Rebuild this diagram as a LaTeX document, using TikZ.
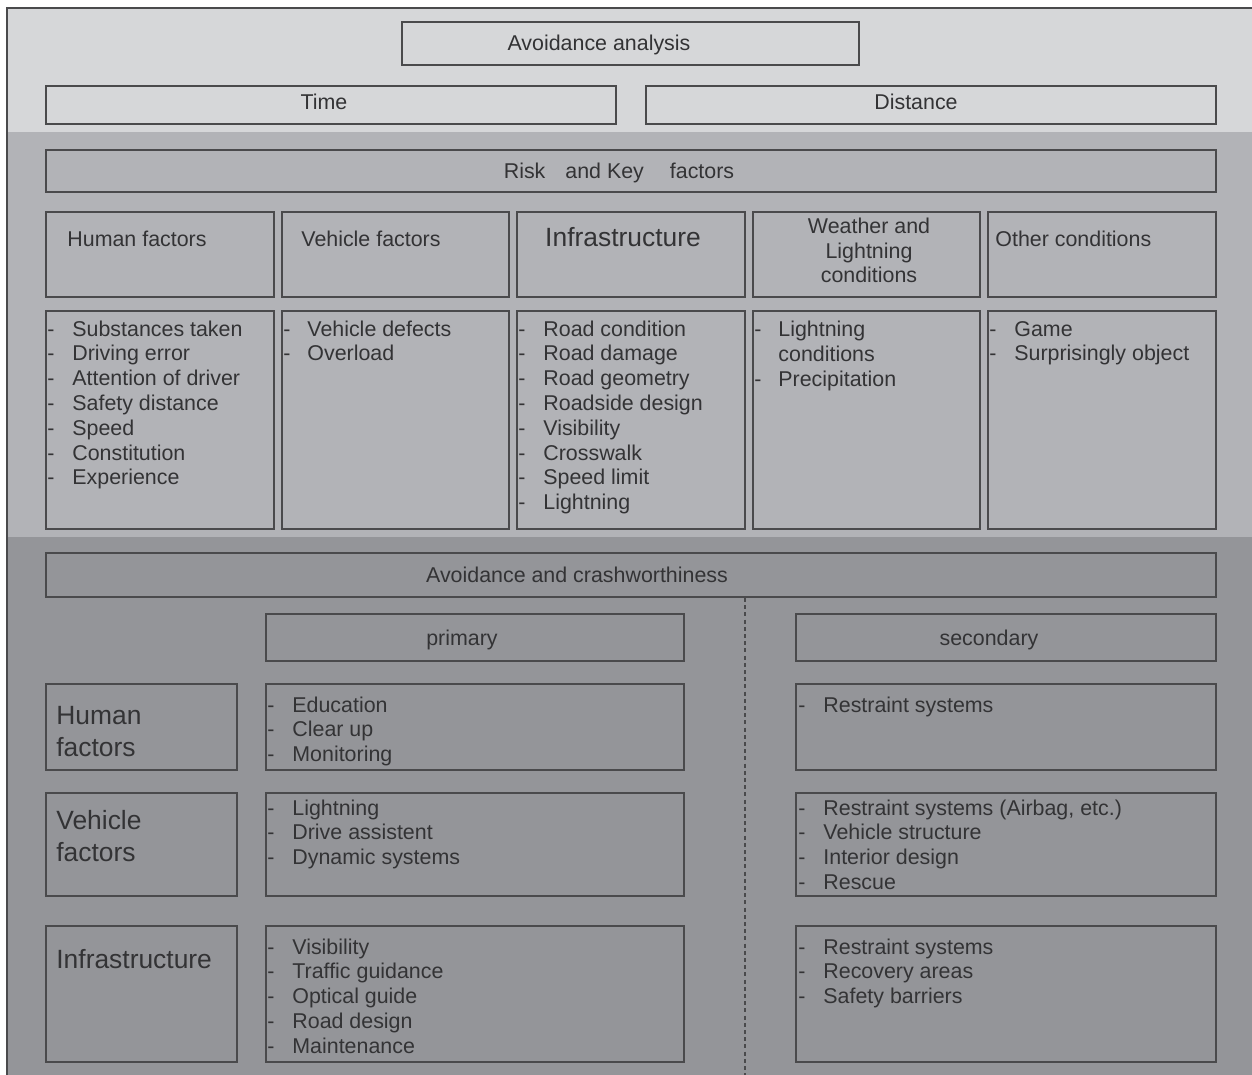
\documentclass[tikz,border=0pt]{standalone}
\usepackage{fontspec}
\setmainfont{Liberation Sans}
\definecolor{bgtop}{HTML}{D6D7D9}
\definecolor{bgmid}{HTML}{B2B3B7}
\definecolor{bgbot}{HTML}{949599}
\definecolor{edge}{HTML}{4A4A4C}
\definecolor{ink}{HTML}{333335}
\tikzset{
  boxst/.style={draw=edge, line width=1.2pt, inner sep=0pt, fill=none},
  txt/.style={text=ink, inner sep=0pt, font=\fontsize{10.7}{12}\selectfont},
  bigtxt/.style={text=ink, inner sep=0pt, font=\fontsize{13.2}{16}\selectfont},
  itemtx/.style={txt, anchor=base west},
  ctr/.style={txt, anchor=base},
  sep/.style={draw=edge, line width=1pt, dash pattern=on 2pt off 1.6pt},
}
\newcommand{\mybox}[5]{\node[boxst, minimum width={(#4-#2)*0.5pt}, minimum height={(#5-#3)*0.5pt}] (#1) at ({(#2+#4)/2},{(#3+#5)/2}) {};}
% list: prefix, dash x, text x, first baseline y, items
\newcommand{\mylist}[5]{%
  \foreach \t [count=\i] in {#5} {%
    \node[itemtx] (#1d\i) at (#2,{#4+(\i-1)*24.8}) {-};
    \node[itemtx] (#1t\i) at (#3,{#4+(\i-1)*24.8}) {\t};
  }}
\begin{document}
\begin{tikzpicture}[x=0.5pt,y=-0.5pt]
\useasboundingbox (0,0) rectangle (1252,1075);
\fill[bgtop] (7,8) rectangle (1252,132);
\fill[bgmid] (7,132) rectangle (1252,537);
\fill[bgbot] (7,537) rectangle (1252,1075);
\draw[edge, line width=1pt] (7,1075) -- (7,8) -- (1252,8);

% top
\mybox{aa}{402}{22}{859}{65}
\node[ctr] (aat) at (599,51) {Avoidance analysis};
\mybox{time}{46}{86}{616}{124}
\node[ctr] (timet) at (324,110) {Time};
\mybox{dist}{646}{86}{1216}{124}
\node[ctr] (distt) at (916,110) {Distance};

% risk
\mybox{risk}{46}{150}{1216}{192}
\node[ctr] (riskt) at (619,179) {Risk\hspace{10pt}and Key\hspace{13pt}factors};

% headers
\mybox{h1}{46}{212}{274}{297}
\mybox{h2}{282}{212}{509}{297}
\mybox{h3}{517}{212}{745}{297}
\mybox{h4}{753}{212}{980}{297}
\mybox{h5}{988}{212}{1216}{297}
\node[itemtx] (h1t) at (67,247) {Human factors};
\node[itemtx] (h2t) at (301,247) {Vehicle factors};
\node[bigtxt, anchor=base] (h3t) at (623,247) {Infrastructure};
\node[ctr] (h4a) at (869,234) {Weather and};
\node[ctr] (h4b) at (869,258) {Lightning};
\node[ctr] (h4c) at (869,282) {conditions};
\node[itemtx] (h5t) at (995,247) {Other conditions};

% lists
\mybox{l1}{46}{311}{274}{529}
\mybox{l2}{282}{311}{509}{529}
\mybox{l3}{517}{311}{745}{529}
\mybox{l4}{753}{311}{980}{529}
\mybox{l5}{988}{311}{1216}{529}
\mylist{la}{47}{72}{336}{Substances taken, Driving error, Attention of driver, Safety distance, Speed, Constitution, Experience}
\mylist{lb}{283}{307}{336}{Vehicle defects, Overload}
\mylist{lc}{518}{543}{336}{Road condition, Road damage, Road geometry, Roadside design, Visibility, Crosswalk, Speed limit, Lightning}
\node[itemtx] (ld1) at (754,336) {-};
\node[itemtx] (ldt1) at (778,336) {Lightning};
\node[itemtx] (ldt2) at (778,361) {conditions};
\node[itemtx] (ld2) at (754,386) {-};
\node[itemtx] (ldt3) at (778,386) {Precipitation};
\mylist{le}{989}{1014}{336}{Game, Surprisingly object}

% bottom
\mybox{acw}{46}{553}{1216}{597}
\node[ctr] (acwt) at (577,582) {Avoidance and crashworthiness};
\coordinate (dtop) at (745,598);
\coordinate (dbot) at (745,1075);
\draw[sep] (dtop) -- (dbot);
\mybox{prim}{266}{614}{684}{661}
\node[ctr] (primt) at (462,645) {primary};
\mybox{sec}{796}{614}{1216}{661}
\node[ctr] (sect) at (989,645) {secondary};

\mybox{r1}{46}{684}{237}{770}
\mybox{r2}{46}{793}{237}{896}
\mybox{r3}{46}{926}{237}{1062}
\node[bigtxt, anchor=base west] (r1a) at (56,724) {Human};
\node[bigtxt, anchor=base west] (r1b) at (56,756) {factors};
\node[bigtxt, anchor=base west] (r2a) at (56,829) {Vehicle};
\node[bigtxt, anchor=base west] (r2b) at (56,861) {factors};
\node[bigtxt, anchor=base west] (r3a) at (56,968) {Infrastructure};

\mybox{p1}{266}{684}{684}{770}
\mybox{p2}{266}{793}{684}{896}
\mybox{p3}{266}{926}{684}{1062}
\mylist{pa}{267}{292}{712}{Education, Clear up, Monitoring}
\mylist{pb}{267}{292}{815}{Lightning, Drive assistent, Dynamic systems}
\mylist{pc}{267}{292}{954}{Visibility, Traffic guidance, Optical guide, Road design, Maintenance}

\mybox{s1}{796}{684}{1216}{770}
\mybox{s2}{796}{793}{1216}{896}
\mybox{s3}{796}{926}{1216}{1062}
\mylist{sa}{798}{823}{712}{Restraint systems}
\mylist{sb}{798}{823}{815}{{Restraint systems (Airbag, etc.)}, Vehicle structure, Interior design, Rescue}
\mylist{sc}{798}{823}{954}{Restraint systems, Recovery areas, Safety barriers}
\end{tikzpicture}
\end{document}
